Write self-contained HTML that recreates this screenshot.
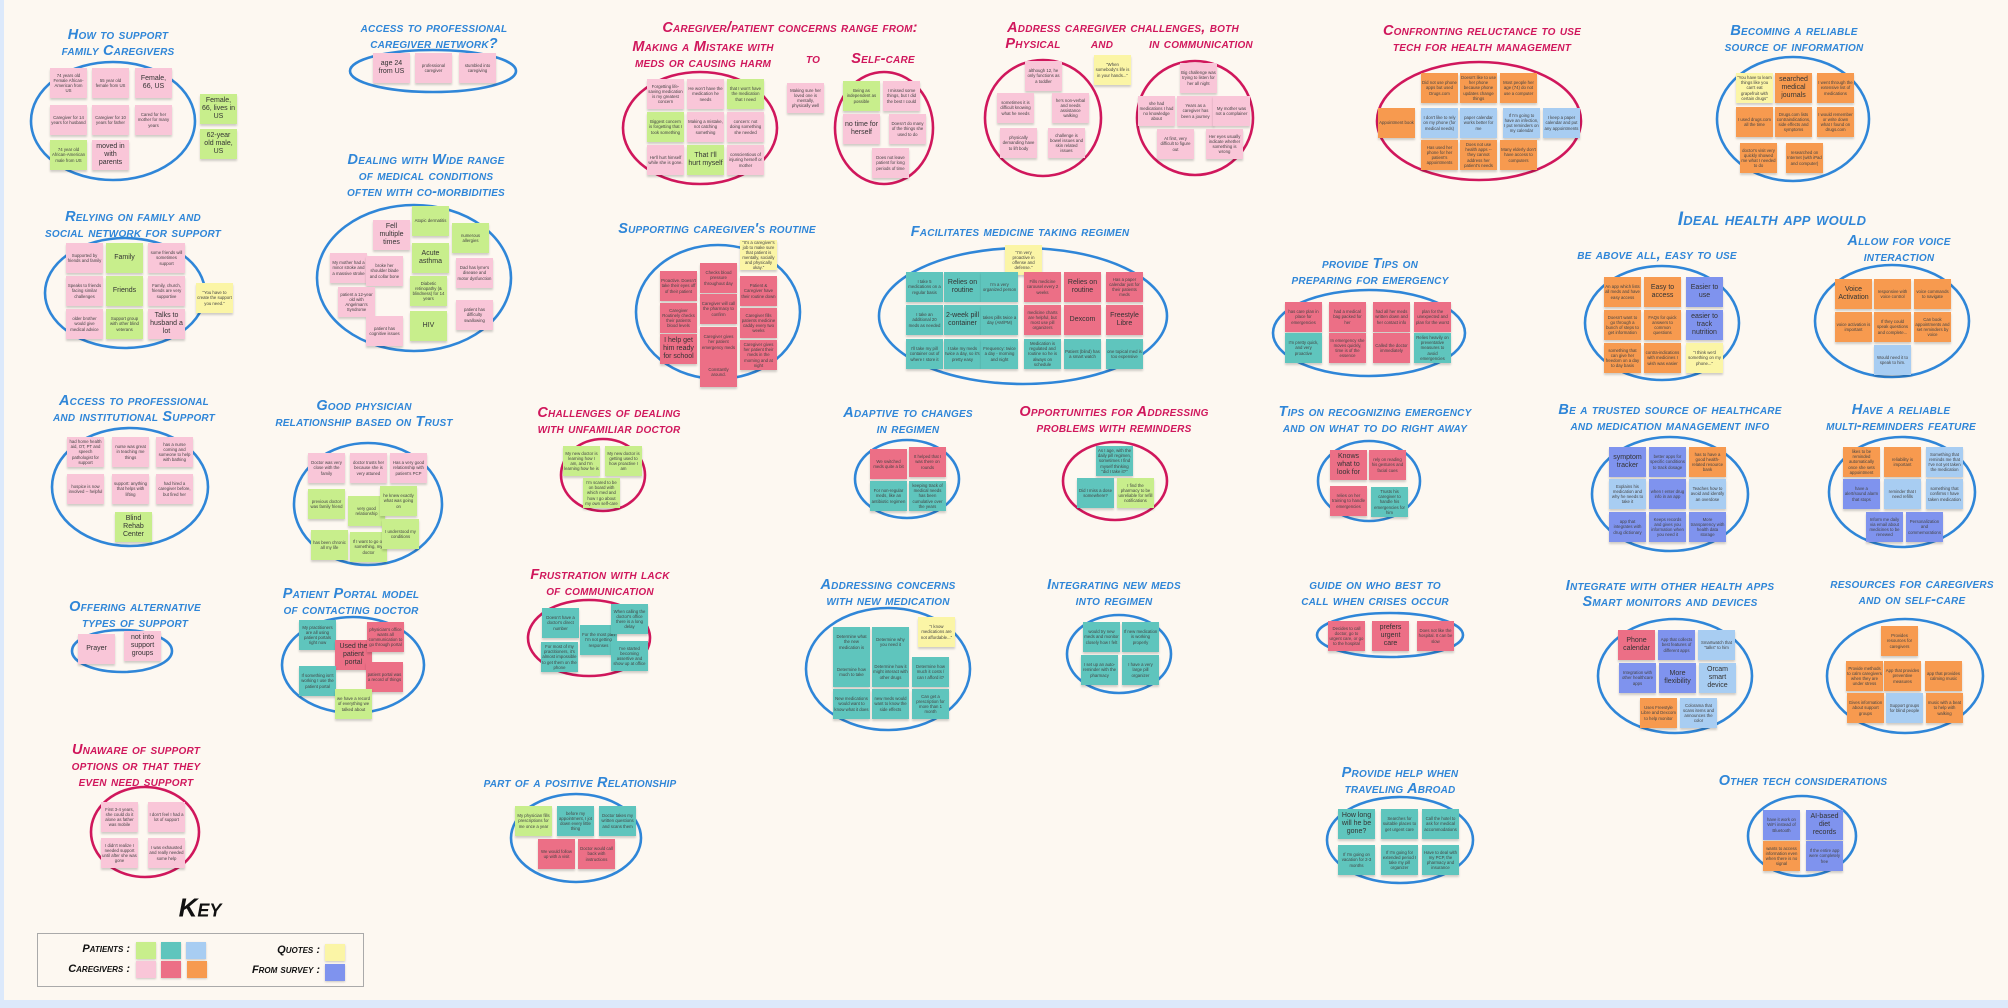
<!DOCTYPE html>
<html><head><meta charset="utf-8">
<style>
html,body{margin:0;padding:0;}
body{width:2008px;height:1008px;overflow:hidden;background:#fdf8f1;position:relative;font-family:"Liberation Sans",sans-serif;}
#board{position:absolute;left:0;top:0;width:2008px;height:1008px;}
.lb{position:absolute;left:0;top:0;width:4px;height:1008px;background:#dce9fb;}
.bb{position:absolute;left:0;top:1000px;width:2008px;height:8px;background:#dce9fb;}
.title{position:absolute;transform:translate(-50%,-50%);white-space:nowrap;font-weight:bold;font-style:italic;font-variant:small-caps;font-size:14.5px;letter-spacing:0.2px;}
.tb{color:#2f86d8;}
.tm{color:#d0175c;}
.note{position:absolute;width:37px;height:30px;display:flex;align-items:center;justify-content:center;text-align:center;font-size:4.3px;line-height:1.2;color:#444;box-shadow:0 2px 2px rgba(0,0,0,0.18);overflow:hidden;padding:1px;box-sizing:border-box;}
.big{font-size:7px;line-height:1.15;color:#333;}
svg{position:absolute;left:0;top:0;}
.key-label{position:absolute;font-weight:bold;font-style:italic;font-variant:small-caps;font-size:11px;color:#111;white-space:nowrap;}
.sw{position:absolute;width:20px;height:17px;box-shadow:0 1px 2px rgba(0,0,0,0.2);}
</style></head>
<body>
<div id="board">
<div class="lb"></div>
<div class="bb"></div>
<svg id="ell" width="2008" height="1008"></svg>
</div>
<div style="position:absolute;left:200px;top:908px;transform:translate(-50%,-50%);font-weight:bold;font-style:italic;font-variant:small-caps;font-size:26px;color:#111;">Key</div>
<div style="position:absolute;left:37px;top:933px;width:327px;height:54px;border:1.5px solid #aaa;box-sizing:border-box;"></div>
<div class="key-label" style="right:1878px;top:943px;">Patients :</div>
<div class="key-label" style="right:1878px;top:963px;">Caregivers :</div>
<div class="key-label" style="right:1688px;top:944px;">Quotes :</div>
<div class="key-label" style="right:1688px;top:964px;">From survey :</div>
<div class="sw" style="left:136px;top:942px;background:#c8ee8c"></div>
<div class="sw" style="left:161px;top:942px;background:#5fc5bd"></div>
<div class="sw" style="left:186px;top:942px;background:#a8cdf2"></div>
<div class="sw" style="left:136px;top:961px;background:#f9c6d8"></div>
<div class="sw" style="left:161px;top:961px;background:#ec6f86"></div>
<div class="sw" style="left:187px;top:961px;background:#f79a4f"></div>
<div class="sw" style="left:325px;top:944px;background:#fbf5a6"></div>
<div class="sw" style="left:325px;top:964px;background:#7f93ee"></div>
<script>
const COL={p:'#f9c6d8',r:'#ec6f86',o:'#f79a4f',g:'#c8ee8c',t:'#5fc5bd',b:'#a8cdf2',y:'#fbf5a6',v:'#7f93ee'};
const ECOL={b:'#2f86d8',m:'#d0175c'};
const clusters=[
{t:["How to support","family Caregivers"],tx:118,ty:35,tc:'b',e:[113,121,82,59,'b'],n:[
[50,68,'p','74 years old Female African-American from US'],[92,68,'p','55 year old female from US'],[135,68,'p','Female, 66, US',1],
[50,105,'p','Caregiver for 14 years for husband'],[92,105,'p','Caregiver for 10 years for father'],[135,105,'p','Cared for her mother for many years'],
[50,140,'g','74 year old African-American male from US'],[92,140,'p','moved in with parents',1],
[200,94,'g','Female, 66, lives in US',1],[200,129,'g','62-year old male, US',1]]},
{t:["access to professional","caregiver network?"],tx:434,ty:28,tc:'b',e:[433,71,83,21,'b'],n:[
[373,53,'p','age 24 from US',1],[415,53,'p','professional caregiver'],[459,53,'p','stumbled into caregiving']]},
{t:["Dealing with Wide range","of medical conditions","often with co-morbidities"],tx:426,ty:160,tc:'b',e:[414,278,97,73,'b'],n:[
[373,220,'p','Fell multiple times',1],[412,206,'g','Atopic dermatitis'],[452,223,'g','numerous allergies'],[412,243,'g','Acute asthma',1],
[330,253,'p','My mother had a minor stroke and a massive stroke'],[366,256,'p','broke her shoulder blade and collar bone'],[456,258,'p',"Dad has lyme's disease and motor dysfunction"],
[410,276,'g','Diabetic retinopathy (& blindness) for 14 years'],[338,287,'p',"patient a 12-year old with Angelman's Syndrome"],[366,316,'p','patient has cognitive issues'],
[410,311,'g','HIV',1],[456,300,'p','patient has difficulty swallowing']]},
{t:["Relying on family and","social network for support"],tx:133,ty:217,tc:'b',e:[125,293,80,55,'b'],n:[
[66,243,'p','Supported by friends and family'],[106,243,'g','Family',1],[148,243,'p','some friends will sometimes support'],
[66,276,'p','Speaks to friends facing similar challenges'],[106,276,'g','Friends',1],[148,276,'p','Family, church, friends are very supportive'],
[66,309,'p','older brother would give medical advice'],[106,309,'g','Support group with other blind veterans'],[148,309,'p','Talks to husband a lot',1],
[196,283,'y','"You have to create the support you need."']]},
{t:["Caregiver/patient concerns range from:"],tx:790,ty:28,tc:'m',e:null,n:[]},
{t:["Making a Mistake with","meds or causing harm"],tx:703,ty:47,tc:'m',e:[700,128,77,56,'m'],n:[
[647,79,'p','Forgetting life-saving medication is my greatest concern'],[687,79,'p',"He won't have the medication he needs"],[727,79,'g',"that I won't have the medication that I need"],
[647,112,'g','Biggest concern is forgetting that I took something'],[687,112,'p','Making a mistake, not catching something'],[727,112,'p','concern: not doing something she needed'],
[647,145,'p',"He'll hurt himself while she is gone."],[687,145,'g',"That I'll hurt myself",1],[727,145,'p','conscientious of injuring herself or mother']]},
{t:["to"],tx:813,ty:59,tc:'m',e:null,n:[[787,83,'p','Making sure her loved one is mentally, physically well']]},
{t:["Self-care"],tx:883,ty:59,tc:'m',e:[884,128,49,56,'m'],n:[
[843,81,'g','Being as independent as possible'],[883,81,'p','I missed some things, but I did the best I could'],
[843,114,'p','no time for herself',1],[889,114,'p','Doesn\'t do many of the things she used to do'],[872,148,'p','Does not leave patient for long periods of time']]},
{t:["Address caregiver challenges, both"],tx:1123,ty:28,tc:'m',e:null,n:[[1094,55,'y','"When somebody\'s life is in your hands..."']]},
{t:["Physical"],tx:1033,ty:44,tc:'m',e:[1043,118,58,58,'m'],n:[
[1025,61,'p','although 12, he only functions as a toddler'],[997,93,'p','sometimes it is difficult knowing what he needs'],[1052,93,'p',"he's non-verbal and needs assistance walking"],
[1000,128,'p','physically demanding have to lift body'],[1048,128,'p','challenge is bowel issues and skin related issues']]},
{t:["and"],tx:1102,ty:44,tc:'m',e:null,n:[]},
{t:["in communication"],tx:1201,ty:44,tc:'m',e:[1195,118,58,57,'m'],n:[
[1180,63,'p','Big challenge was trying to listen for her all night'],[1138,96,'p','she had medications I had no knowledge about'],[1177,96,'p','Years as a caregiver has been a journey'],[1213,96,'p','My mother was not a complainer'],
[1157,129,'p','At first, very difficult to figure out'],[1206,129,'p','Her eyes usually indicate whether something is wrong']]},
{t:["Supporting caregiver's routine"],tx:717,ty:229,tc:'b',e:[718,312,82,67,'b'],n:[
[740,240,'y','"It\'s a caregiver\'s job to make sure that patient is mentally, socially and physically okay."'],
[660,271,'r','Proactive. Doesn\'t take their eyes off of their patient'],[700,263,'r','Checks blood pressure throughout day'],[740,276,'r','Patient & Caregiver have their routine down'],
[660,303,'r','Caregiver Routinely checks their patients blood levels'],[700,294,'r','Caregiver will call the pharmacy to confirm'],[740,308,'r','Caregiver fills patients medicine caddy every two weeks'],
[660,334,'r','I help get him ready for school',1],[700,327,'r','Caregiver gives her patient emergency meds'],[740,340,'r','Caregiver gives her patient their meds in the morning and at night'],
[700,357,'r','Constantly around.']]},
{t:["Facilitates medicine taking regimen"],tx:1020,ty:232,tc:'b',e:[1023,316,144,68,'b'],n:[
[1005,245,'y','"I\'m very proactive in offense and defense."'],
[906,272,'t','I take 5 medications on a regular basis'],[944,272,'t','Relies on routine',1],[981,272,'t',"I'm a very organized person"],[1024,272,'r','Fills medicine carousel every 2 weeks'],[1064,272,'r','Relies on routine',1],[1106,272,'r','Has a paper calendar just for their patients meds'],
[906,305,'t','I take an additional 20 meds as needed'],[944,305,'t','2-week pill container',1],[981,305,'t','takes pills twice a day (AM/PM)'],[1024,305,'r','medicine charts are helpful, but most use pill organizers'],[1064,305,'r','Dexcom',1],[1106,305,'r','Freestyle Libre',1],
[906,339,'t',"I'll take my pill container out of where I store it"],[944,339,'t','I take my meds twice a day, so it\'s pretty easy'],[981,339,'t','Frequency: twice a day - morning and night'],[1024,339,'t','Medication is regulated and routine so he is always on schedule'],[1064,339,'t','Patient (blind) has a smart watch'],[1106,339,'t','one topical med is too expensive']]},
{t:["Confronting reluctance to use","tech for health management"],tx:1482,ty:31,tc:'m',e:[1479,121,102,59,'m'],n:[
[1421,73,'o','Did not use phone apps but used Drugs.com'],[1460,73,'o',"Doesn't like to use her phone because phone updates change things"],[1500,73,'o','Most people her age (74) do not use a computer'],
[1378,108,'o','Appointment book'],[1421,108,'b',"I don't like to rely on my phone (for medical needs)"],[1460,108,'b','paper calendar works better for me'],[1503,108,'b',"If I'm going to have an infection, I put reminders on my calendar"],[1543,108,'b','I keep a paper calendar and put any appointments'],
[1421,140,'o','Has used her phone for her patient\'s appointments'],[1460,140,'o','Does not use health apps -- they cannot address her patient\'s needs'],[1500,140,'o',"Many elderly don't have access to computers"]]},
{t:["Becoming a reliable","source of information"],tx:1794,ty:31,tc:'b',e:[1793,119,76,62,'b'],n:[
[1736,73,'y','"You have to learn things like you can\'t eat grapefruit with certain drugs"'],[1775,73,'o','searched medical journals',1],[1817,73,'o','I went through the extensive list of medications'],
[1736,107,'o','I used drugs.com all the time'],[1775,107,'o','Drugs.com lists contraindications, side effects and symptoms'],[1817,107,'o','I would remember or write down what I found on drugs.com'],
[1740,143,'o',"doctor's visit very quickly showed me what I needed to do"],[1786,143,'o','researched on Internet (with iPad and computer)']]},
{t:["Ideal health app would"],tx:1772,ty:220,tc:'b',fs:19,e:null,n:[]},
{t:["be above all, easy to use"],tx:1657,ty:255,tc:'b',e:[1662,323,77,57,'b'],n:[
[1604,277,'o','An app which lists all meds and have easy access'],[1644,277,'o','Easy to access',1],[1686,277,'v','Easier to use',1],
[1604,310,'o',"Doesn't want to go through a bunch of steps to get information"],[1644,310,'o','FAQs for quick answers to common questions'],[1686,310,'v','easier to track nutrition',1],
[1604,343,'o','something that can give her freedom on a day to day basis'],[1644,343,'o','contra-indications with medicines I wish was easier'],[1686,343,'y','"I think we\'d something on my phone..."']]},
{t:["Allow for voice","interaction"],tx:1899,ty:241,tc:'b',e:[1892,321,77,56,'b'],n:[
[1835,279,'o','Voice Activation',1],[1874,279,'o','responsive with voice control'],[1914,279,'o','voice commands to navigate'],
[1835,312,'o','voice activation is important'],[1874,312,'o','If they could speak questions and complete...'],[1914,312,'o','Can book appointments and set reminders by voice'],
[1874,345,'b','Would need it to speak to him.']]},
{t:["provide Tips on","preparing for emergency"],tx:1370,ty:264,tc:'b',e:[1369,333,96,43,'b'],n:[
[1285,302,'r','has care plan in place for emergencies'],[1329,302,'r','had a medical bag packed for her'],[1373,302,'r','had all her meds written down and her contact info'],[1414,302,'r','plan for the unexpected and plan for the worst'],
[1285,333,'t',"I'm pretty quick, and very proactive"],[1329,333,'r','In emergency she moves quickly, time is of the essence'],[1373,333,'r','Called the doctor immediately'],[1414,333,'t','Relies heavily on preventative measures to avoid emergencies']]},
{t:["Access to professional","and institutional Support"],tx:134,ty:401,tc:'b',e:[130,487,78,59,'b'],n:[
[67,437,'p','had home health aid, OT, PT and speech pathologist for support'],[112,437,'p','nurse was great in teaching me things'],[156,437,'p','has a nurse coming and someone to help with bathing'],
[67,474,'p','hospice is now involved -- helpful'],[112,474,'p','support: anything that helps with lifting'],[156,474,'p','had hired a caregiver before, but fired her'],
[115,512,'g','Blind Rehab Center',1]]},
{t:["Good physician","relationship based on Trust"],tx:364,ty:406,tc:'b',e:[368,504,74,61,'b'],n:[
[308,453,'p','Doctor was very close with the family'],[350,453,'p','doctor trusts her because she is very attuned'],[390,453,'p','Has a very good relationship with patient\'s PCP'],
[308,489,'g','previous doctor was family friend'],[348,496,'g','very good relationship'],[380,486,'g','he knew exactly what was going on'],
[311,530,'g','has been chronic all my life'],[350,532,'g','If I want to go off something, my doctor'],[382,519,'g','I understood my conditions']]},
{t:["Challenges of dealing","with unfamiliar doctor"],tx:609,ty:413,tc:'m',e:[603,475,42,36,'m'],n:[
[563,446,'g',"My new doctor is learning how I am, and I'm learning how he is"],[605,446,'g','My new doctor is getting used to how proactive I am'],[583,478,'g',"I'm scared to be on board with which med and how I go about my own self-care"]]},
{t:["Offering alternative","types of support"],tx:135,ty:607,tc:'b',e:[122,651,50,21,'b'],n:[
[78,634,'p','Prayer',1],[124,631,'p','not into support groups',1]]},
{t:["Patient Portal model","of contacting doctor"],tx:351,ty:594,tc:'b',e:[353,665,71,48,'b'],n:[
[299,620,'t','My practitioners are all using patient portals right now'],[335,640,'r','Used the patient portal',1],[367,622,'r',"physician's office wants all communication to go through portal"],
[299,666,'t','If something isn\'t working I use the patient portal'],[366,662,'r','patient portal was a record of things'],[335,689,'g','we have a record of everything we talked about']]},
{t:["Frustration with lack","of communication"],tx:600,ty:575,tc:'m',e:[589,638,61,38,'m'],n:[
[542,608,'t',"Doesn't have a doctor's direct number"],[580,625,'t',"For the most part I'm not getting responses"],[611,604,'t',"When calling the doctor's office there is a long delay"],
[541,642,'t','For most of my practitioners, it\'s almost impossible to get them on the phone'],[611,641,'t',"I've started becoming assertive and show up at office"]]},
{t:["Unaware of support","options or that they","even need support"],tx:136,ty:750,tc:'m',e:[145,832,54,45,'m'],n:[
[101,802,'p','First 3-4 years, she could do it alone as father was mobile'],[148,802,'p',"I don't feel I had a lot of support"],
[101,838,'p',"I didn't realize I needed support until after she was gone"],[148,838,'p','I was exhausted and really needed some help']]},
{t:["part of a positive Relationship"],tx:580,ty:783,tc:'b',e:[576,838,65,44,'b'],n:[
[515,806,'g','My physician fills prescriptions for me once a year'],[557,806,'t','before my appointment, I jot down every little thing'],[599,806,'t','Doctor takes my written questions and scans them'],
[538,839,'r','We would follow up with a visit'],[578,839,'r','Doctor would call back with instructions']]},
{t:["Adaptive to changes","in regimen"],tx:908,ty:413,tc:'b',e:[907,479,52,39,'b'],n:[
[870,449,'r','We switched meds quite a bit'],[909,447,'r',"It helped that I was there on rounds"],
[870,481,'t','For non-regular meds, like an antibiotic regimen'],[909,481,'t','keeping track of medical needs has been cumulative over the years']]},
{t:["Opportunities for Addressing","problems with reminders"],tx:1114,ty:412,tc:'m',e:[1115,481,52,39,'m'],n:[
[1096,446,'t','As I age, with the daily pill regimen, sometimes I find myself thinking "did I take it?"'],[1077,478,'t','Did I miss a dose somewhere?'],[1117,478,'g','I find the pharmacy to be unreliable for refill notifications']]},
{t:["Addressing concerns","with new medication"],tx:888,ty:585,tc:'b',e:[888,669,82,61,'b'],n:[
[833,627,'t','Determine what the new medication is'],[872,627,'t','Determine why you need it'],[918,617,'y','"I know medications are not affordable..."'],
[833,657,'t','Determine how much to take'],[872,657,'t','Determine how it might interact with other drugs'],[912,657,'t','Determine how much it costs / can I afford it?'],
[833,689,'t','New medications would want to know what it does'],[872,689,'t','new meds would want to know the side effects'],[912,689,'t','Can get a prescription for more than 1 month']]},
{t:["Integrating new meds","into regimen"],tx:1114,ty:585,tc:'b',e:[1119,654,52,39,'b'],n:[
[1083,622,'t','would try new meds and monitor closely how I felt'],[1122,622,'t','If new medication is working properly'],
[1081,655,'t','I set up an auto-reminder with the pharmacy'],[1122,655,'t','I have a very large pill organizer']]},
{t:["Tips on recognizing emergency","and on what to do right away"],tx:1375,ty:412,tc:'b',e:[1369,481,51,40,'b'],n:[
[1330,450,'r','Knows what to look for',1],[1369,450,'r','rely on reading his gestures and facial cues'],
[1330,486,'r','relies on her training to handle emergencies'],[1371,487,'t','Trusts his caregiver to handle his emergencies for him']]},
{t:["Be a trusted source of healthcare","and medication management info"],tx:1670,ty:410,tc:'b',e:[1670,494,78,57,'b'],n:[
[1609,447,'v','symptom tracker',1],[1649,447,'v','better apps for specific conditions to track dosage'],[1689,447,'o','has to have a good health-related resource bank'],
[1609,479,'b','Explains his medication and why he needs to take it'],[1649,479,'v','when I enter drug info in an app'],[1689,479,'b','Teaches how to avoid and identify an overdose'],
[1609,512,'v','app that integrates with drug dictionary'],[1649,512,'v','Keeps records and gives you information when you need it'],[1689,512,'v','More transparency with health data storage']]},
{t:["Have a reliable","multi-reminders feature"],tx:1901,ty:410,tc:'b',e:[1902,492,73,55,'b'],n:[
[1843,447,'o','likes to be reminded automatically once she sets appointment'],[1884,447,'o','reliability is important'],[1926,447,'b','Something that reminds me that I\'ve not yet taken the medication'],
[1843,479,'v','have a alert/sound alarm that stops'],[1884,479,'b','reminder that I need refills'],[1926,479,'b','something that confirms I have taken medication'],
[1866,512,'v','Inform me daily via email about medicines to be renewed'],[1906,512,'v','Personalization and commemorations']]},
{t:["guide on who best to","call when crises occur"],tx:1375,ty:585,tc:'b',e:[1390,635,73,22,'b'],n:[
[1328,621,'r','Decides to call doctor, go to urgent care, or go to the hospital'],[1372,621,'r','prefers urgent care',1],[1417,621,'r','Does not like the hospital. It can be slow']]},
{t:["Integrate with other health apps","Smart monitors and devices"],tx:1670,ty:586,tc:'b',e:[1675,676,77,57,'b'],n:[
[1618,630,'r','Phone calendar',1],[1658,630,'v','App that collects best features of different apps'],[1698,630,'b','Smartwatch that "talks" to him'],
[1619,663,'v','Integration with other healthcare apps'],[1659,663,'v','More flexibility',1],[1699,663,'b','Orcam smart device',1],
[1640,698,'o','Uses Freestyle Libre and Dexcom to help monitor'],[1680,698,'b','Colorama that scans items and announces the color']]},
{t:["resources for caregivers","and on self-care"],tx:1912,ty:584,tc:'b',e:[1905,676,78,57,'b'],n:[
[1881,626,'o','Provides resources for caregivers'],
[1846,661,'o','Provide methods to calm caregivers when they are under stress'],[1884,661,'o','App that provides preventive measures'],[1925,661,'o','app that provides calming music'],
[1847,693,'o','Gives information about support groups'],[1886,693,'b','Support groups for blind people'],[1926,693,'o','music with a beat to help with walking']]},
{t:["Provide help when","traveling Abroad"],tx:1400,ty:773,tc:'b',e:[1400,840,73,43,'b'],n:[
[1338,809,'t','How long will he be gone?',1],[1381,809,'t','Searches for suitable places to get urgent care'],[1422,809,'t','Call the hotel to ask for medical accommodations'],
[1338,845,'t',"If I'm going on vacation for 2-3 months"],[1381,845,'t',"If I'm going for extended period I take my pill organizer"],[1422,845,'t','Have to deal with my PCP, the pharmacy and insurance']]},
{t:["Other tech considerations"],tx:1803,ty:781,tc:'b',e:[1802,836,54,40,'b'],n:[
[1763,810,'v','have it work on WiFi instead of Bluetooth'],[1806,810,'v','AI-based diet records',1],
[1763,841,'o','wants to access information even when there is no signal'],[1806,841,'v','If the entire app were completely free']]}
];

const board=document.getElementById('board');
const svg=document.getElementById('ell');
const NS='http://www.w3.org/2000/svg';
clusters.forEach((c)=>{
  c.t.forEach((line,li)=>{
    const d=document.createElement('div');
    d.className='title '+(c.tc==='m'?'tm':'tb');
    
    
    d.style.left=c.tx+'px';
    d.style.top=(c.ty+li*16)+'px';
    if(c.fs)d.style.fontSize=c.fs+'px';
    d.textContent=line;
    board.appendChild(d);
  });
  if(c.e){
    const e=document.createElementNS(NS,'ellipse');
    e.setAttribute('cx',c.e[0]);e.setAttribute('cy',c.e[1]);
    e.setAttribute('rx',c.e[2]);e.setAttribute('ry',c.e[3]);
    e.setAttribute('fill','none');e.setAttribute('stroke',ECOL[c.e[4]]);
    e.setAttribute('stroke-width','2.6');
    
    
    svg.appendChild(e);
  }
  c.n.forEach(n=>{
    const d=document.createElement('div');
    d.className='note'+(n[4]?' big':'');
    
    
    d.style.left=n[0]+'px';d.style.top=n[1]+'px';
    d.style.background=COL[n[2]];
    d.textContent=n[3];
    board.appendChild(d);
  });
});
</script>
</body></html>
